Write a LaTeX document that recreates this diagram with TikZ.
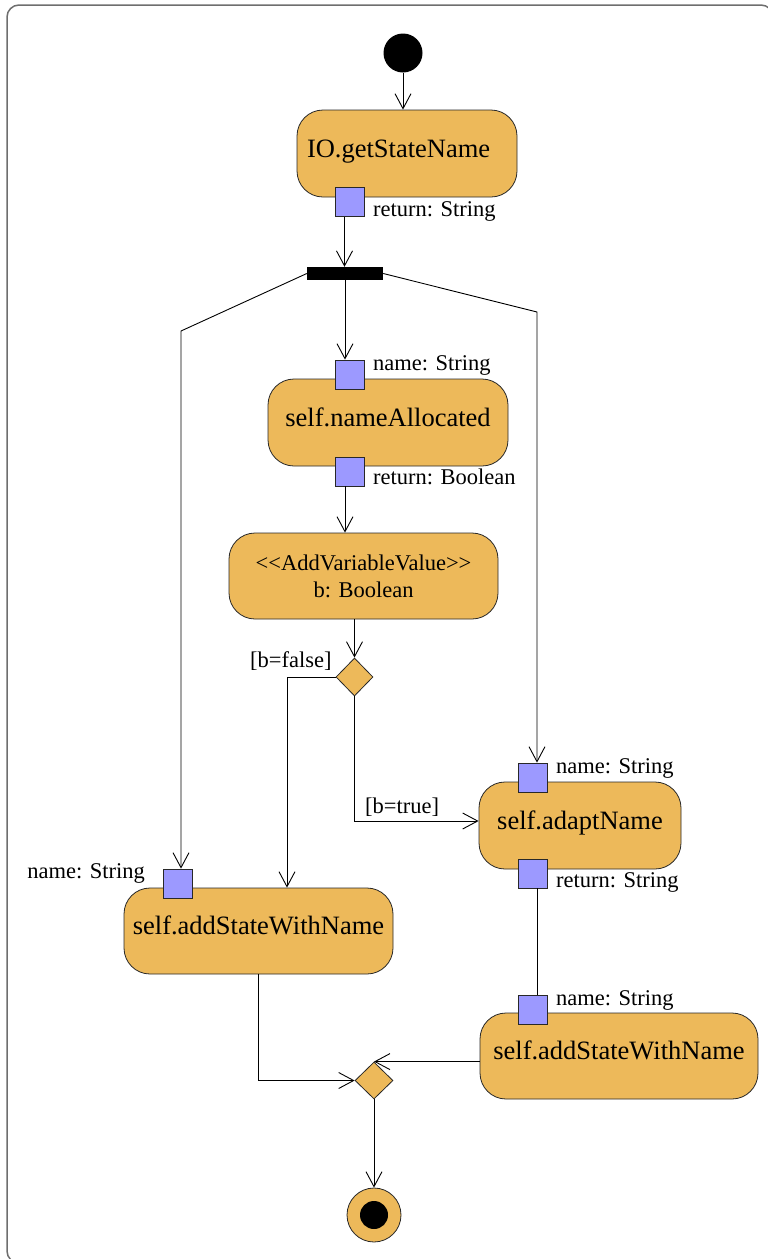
\documentclass[tikz,border=0pt]{standalone}
\usepackage{fontspec}
\setmainfont{Liberation Serif}
\usetikzlibrary{arrows.meta,shapes.geometric,calc}
\definecolor{actfill}{RGB}{237,185,90}
\definecolor{pinfill}{RGB}{156,153,255}
\definecolor{framegray}{RGB}{110,110,110}
\definecolor{edge}{RGB}{40,40,40}

\begin{document}
\begin{tikzpicture}[x=1pt,y=-1pt,
  flow/.style={line width=0.9pt, -{Straight Barb[length=15pt,width=16pt]}},
  plain/.style={line width=0.9pt},
  action/.style={draw=edge, fill=actfill, rounded corners=26pt, line width=0.8pt,
    inner sep=0pt, font=\fontsize{26.5}{30}\selectfont, text height=1.0em, text depth=0.22em},
  action2/.style={draw=edge, fill=actfill, rounded corners=26pt, line width=0.8pt,
    inner sep=0pt, align=center, font=\fontsize{22.5}{27}\selectfont},
  pin/.style={draw=edge, fill=pinfill, minimum size=29pt, inner sep=0pt, line width=0.8pt},
  lbl/.style={font=\fontsize{22.5}{27}\selectfont, inner sep=0pt},
  decision/.style={diamond, draw=edge, fill=actfill, inner sep=0pt,
    minimum width=37pt, minimum height=38pt, line width=0.8pt},
]
\useasboundingbox (0,0) rectangle (768,1259);
\clip (0,0) rectangle (768,1259);

% surrounding activity frame
\draw[framegray, line width=1.5pt, rounded corners=12pt] (7,5) rectangle (773,1263);

% initial and final nodes
\node[circle, fill=black, minimum size=39pt, inner sep=0pt] (start) at (403,53) {};
\node[circle, draw=edge, fill=actfill, minimum size=54pt, inner sep=0pt, line width=0.8pt] (final) at (374,1215) {};
\node[circle, fill=black, minimum size=28pt, inner sep=0pt] (finaldot) at (final.center) {};

% fork bar
\node[fill=black, minimum width=76pt, minimum height=13pt, inner sep=0pt] (fork) at (345,273.5) {};

% actions
\node[action, minimum width=220pt, minimum height=87pt, text width=200pt, align=left] (io) at (407,153.5) {IO.getStateName};
\node[action, minimum width=240pt, minimum height=87pt] (na) at (388,422.5) {self.nameAllocated};
\node[action2, minimum width=269pt, minimum height=86pt] (av) at (363.5,576) {\raisebox{-2pt}{<{}<AddVariableValue>{}>}\\\raisebox{-2pt}{b: Boolean}};
\node[action, minimum width=202pt, minimum height=87pt] (adapt) at (580,825.5) {self.adaptName};
\node[action, minimum width=269pt, minimum height=86pt] (lbox) at (258.5,931) {self.addStateWithName};
\node[action, minimum width=278pt, minimum height=86pt] (rbox) at (619,1056) {self.addStateWithName};

% decision and merge
\node[decision] (dec) at (354.5,677) {};
\node[decision, minimum width=38pt, minimum height=37pt] (merge) at (374,1080.5) {};

% pins
\node[pin] (p_io) at (349.5,202) {};
\node[pin] (p_na_in) at (350,374.5) {};
\node[pin] (p_na_out) at (350,471.5) {};
\node[pin] (p_ad_in) at (532.5,777.5) {};
\node[pin] (p_ad_out) at (532.5,873.5) {};
\node[pin] (p_l_in) at (177.5,883.5) {};
\node[pin] (p_r_in) at (532.5,1009.5) {};

% pin labels
\node[lbl, anchor=base west] (t_io) at (373,216) {return: String};
\node[lbl, anchor=base west] (t_na_in) at (373,370) {name: String};
\node[lbl, anchor=base west] (t_na_out) at (373,484) {return: Boolean};
\node[lbl, anchor=base west] (t_ad_in) at (556,773) {name: String};
\node[lbl, anchor=base west] (t_ad_out) at (556,887) {return: String};
\node[lbl, anchor=base east] (t_l_in) at (145,878) {name: String};
\node[lbl, anchor=base west] (t_r_in) at (556,1005) {name: String};

% guards
\node[lbl, anchor=base west] (g_false) at (250,667) {[b=false]};
\node[lbl, anchor=base west] (g_true) at (365,813) {[b=true]};

% bend points of the fork branches
\coordinate (lbend) at (181,331);
\coordinate (rbend) at (537,312);

% flows
\draw[flow] (start.south) -- (start.south |- io.north);
\draw[flow] ([xshift=-5pt]p_io.south) -- ([xshift=-5pt]p_io.south |- fork.north);
\draw[flow] (fork.west) -- (lbend) -- (lbend |- p_l_in.north);
\draw[flow] (fork.east) -- (rbend) -- (rbend |- p_ad_in.north);
\draw[flow] (fork.south) -- (fork.south |- p_na_in.north);
\draw[flow] ([xshift=-5pt]p_na_out.south) -- ([xshift=-5pt]p_na_out.south |- av.north);
\draw[flow] (dec.north |- av.south) -- (dec.north);
\draw[flow] (dec.west) -| ([xshift=28.5pt]lbox.north);
\draw[flow] (dec.south) |- ([yshift=4.5pt]adapt.west);
\draw[plain] ([xshift=4.5pt]p_ad_out.south) -- ([xshift=4.5pt]p_ad_out.south |- p_r_in.north);
\draw[flow] (lbox.south) |- (merge.west);
\draw[flow] (merge.north -| rbox.west) -- (merge.north);
\draw[flow] (merge.south) -- (final.north);
\end{tikzpicture}
\end{document}
